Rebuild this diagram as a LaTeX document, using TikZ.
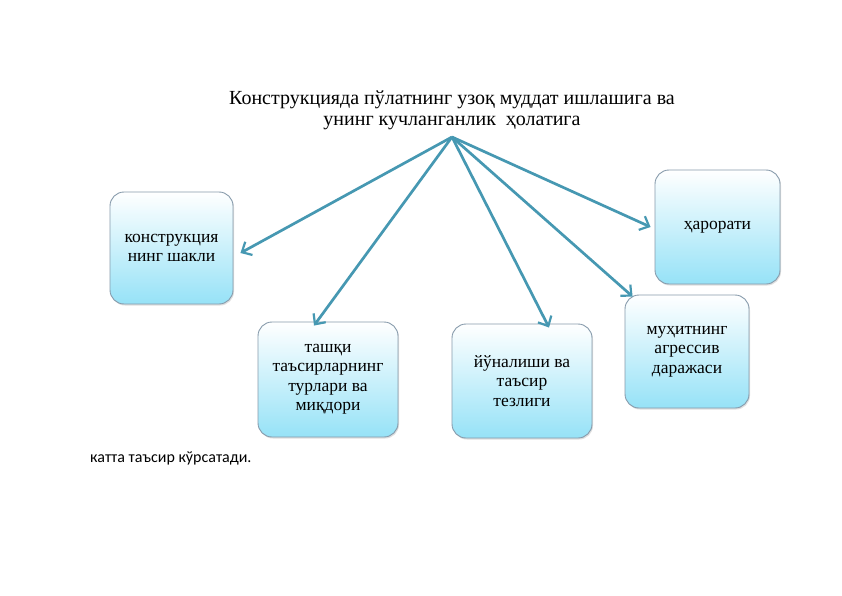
\documentclass[tikz,border=0pt]{standalone}
\usepackage{fontspec}
\setmainfont{Liberation Serif}
\newfontfamily\bodysans{Carlito}
\usetikzlibrary{arrows.meta,shadows}
\definecolor{arrowc}{RGB}{70,152,178}
\definecolor{boxedge}{RGB}{135,155,172}
\definecolor{boxbot}{RGB}{150,226,247}
\tikzset{
  infobox/.style={draw=boxedge, line width=0.9pt, rounded corners=14pt,
    top color=white, bottom color=boxbot, align=center, inner sep=0pt,
    font=\fontsize{17.5}{19.5}\selectfont, text=black,
    drop shadow={shadow xshift=1pt, shadow yshift=-1.5pt, opacity=0.25}},
  link/.style={draw=arrowc, line width=2.7pt,
    -{Straight Barb[length=8pt,width=15pt,line width=2.2pt]}}
}
\begin{document}
\begin{tikzpicture}[x=1pt,y=-1pt]
\useasboundingbox (0,0) rectangle (842,596);
\fill[white] (0,0) rectangle (842,596);
\node[align=center, font=\fontsize{20}{21}\selectfont] (title) at (452,110)
  {Конструкцияда пўлатнинг узоқ муддат ишлашига ва\\унинг кучланганлик\ \ ҳолатига};
\coordinate (hub) at (452,137);
\node[infobox, minimum width=123pt, minimum height=112pt] (b1) at (171.5,248) {конструкция\\нинг шакли};
\node[infobox, minimum width=125pt, minimum height=114pt] (b2) at (717.5,227) {ҳарорати};
\node[infobox, minimum width=140pt, minimum height=115pt] (b3) at (328,379.5) {ташқи\\таъсирларнинг\\турлари ва\\миқдори};
\node[infobox, minimum width=140pt, minimum height=114pt] (b4) at (522,381) {йўналиши ва\\таъсир\\тезлиги};
\node[infobox, minimum width=124pt, minimum height=113pt] (b5) at (687,351.5) {муҳитнинг\\агрессив\\даражаси};
\coordinate (t1) at ([xshift=7pt,yshift=-5pt]b1.east);
\coordinate (t2) at ([xshift=-4pt]b2.west);
\coordinate (t3) at ([xshift=-14pt,yshift=-4pt]b3.north);
\coordinate (t4) at ([xshift=27pt,yshift=-4pt]b4.north);
\coordinate (t5) at ([xshift=8pt,yshift=-2pt]b5.north west);
\draw[link] (hub) -- (t1);
\draw[link] (hub) -- (t2);
\draw[link] (hub) -- (t3);
\draw[link] (hub) -- (t4);
\draw[link] (hub) -- (t5);
\node[anchor=west, font=\bodysans\fontsize{16}{18}\selectfont, inner sep=0pt] (note) at (90,458) {катта таъсир кўрсатади.};
\end{tikzpicture}
\end{document}
